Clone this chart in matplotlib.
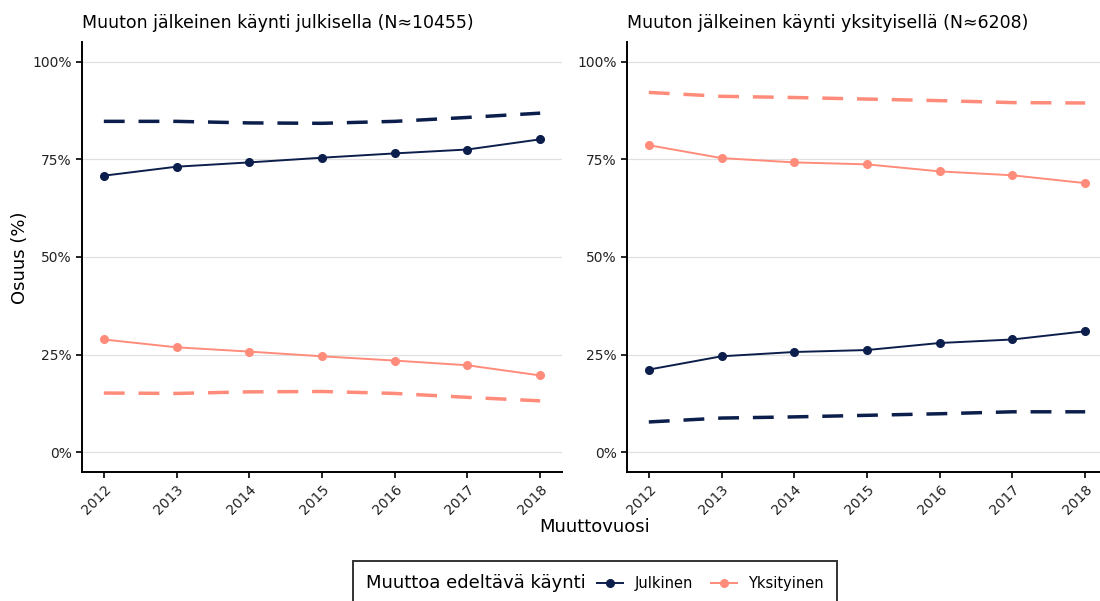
import matplotlib
matplotlib.use("Agg")
import matplotlib.pyplot as plt
from matplotlib.ticker import FuncFormatter
from matplotlib.offsetbox import HPacker
from matplotlib.lines import Line2D

years = [2012, 2013, 2014, 2015, 2016, 2017, 2018]

# Muuton jälkeinen käynti julkisella
julk_julk = [70.8, 73.1, 74.2, 75.4, 76.5, 77.5, 80.1]
julk_yks = [28.9, 26.9, 25.8, 24.6, 23.5, 22.3, 19.7]
julk_julk_ref = [84.7, 84.7, 84.3, 84.2, 84.7, 85.7, 86.8]
julk_yks_ref = [15.2, 15.1, 15.5, 15.6, 15.1, 14.1, 13.2]

# Muuton jälkeinen käynti yksityisellä
yks_yks = [78.6, 75.3, 74.2, 73.7, 71.9, 70.9, 68.9]
yks_julk = [21.2, 24.6, 25.7, 26.2, 28.0, 28.9, 31.0]
yks_yks_ref = [92.1, 91.1, 90.8, 90.4, 90.0, 89.5, 89.4]
yks_julk_ref = [7.8, 8.8, 9.1, 9.5, 9.9, 10.4, 10.4]

titles = ["Muuton jälkeinen käynti julkisella (N\u224810455)",
          "Muuton jälkeinen käynti yksityisellä (N\u22486208)"]
labels = ["Julkinen", "Yksityinen"]

navy = "#0c1e4b"
salmon = "#ff8c7a"

plt.rcParams["font.family"] = ["DejaVu Sans"]

fig = plt.figure(figsize=(11, 6.01), dpi=100)
ax1 = fig.add_axes([82 / 1100, 1 - 472 / 601, 480 / 1100, 430 / 601])
ax2 = fig.add_axes([627 / 1100, 1 - 472 / 601, 480 / 1100, 430 / 601])

panels = [
    (ax1, julk_julk, julk_yks, julk_julk_ref, julk_yks_ref),
    (ax2, yks_julk, yks_yks, yks_julk_ref, yks_yks_ref),
]

for i, (ax, sj, sy, rj, ry) in enumerate(panels):
    ax.plot(years, rj, color=navy, lw=2.5, ls=(0, (6, 4)))
    ax.plot(years, ry, color=salmon, lw=2.5, ls=(0, (6, 4)))
    ax.plot(years, sj, color=navy, lw=1.4, marker="o", ms=5.5)
    ax.plot(years, sy, color=salmon, lw=1.4, marker="o", ms=5.5)

    ax.set_xlim(2011.7, 2018.3)
    ax.set_ylim(-5, 105)
    ax.set_yticks([0, 25, 50, 75, 100])
    ax.yaxis.set_major_formatter(FuncFormatter(lambda v, p: f"{v:.0f}%"))
    ax.set_xticks(years)
    ax.set_xticklabels([str(y) for y in years], rotation=45, ha="right",
                       rotation_mode="anchor")
    ax.grid(axis="y", color="#e0e0e0", lw=0.9)
    ax.set_axisbelow(True)
    for s in ["top", "right"]:
        ax.spines[s].set_visible(False)
    for s in ["left", "bottom"]:
        ax.spines[s].set_linewidth(1.4)
        ax.spines[s].set_color("black")
    ax.tick_params(axis="both", length=4, width=1.2, color="black",
                   labelsize=10, labelcolor="#222222")
    ax.set_title(titles[i], loc="left", fontsize=12.5, pad=10)

fig.text(20 / 1100, 1 - 258 / 601, "Osuus (%)", rotation=90, ha="center",
         va="center", fontsize=13)
fig.text(595 / 1100, 1 - 527 / 601, "Muuttovuosi", ha="center", va="center",
         fontsize=13)

handles = [Line2D([], [], color=navy, marker="o", ms=5.5, lw=1.4),
           Line2D([], [], color=salmon, marker="o", ms=5.5, lw=1.4)]
leg = fig.legend(handles, labels, title="Muuttoa edeltävä käynti", ncol=2,
                 loc="upper center", bbox_to_anchor=(595 / 1100, 1 - 554 / 601),
                 fontsize=10.5, title_fontsize=13, frameon=True, fancybox=False,
                 edgecolor="black", handlelength=1.8, columnspacing=1.2,
                 borderpad=0.9)
leg.get_frame().set_linewidth(1.4)
# put the legend title on the same row as the entries
box = leg._legend_box
leg._legend_box = HPacker(pad=box.pad, sep=8, align="center",
                          children=box.get_children())
leg._legend_box.set_figure(fig)
leg._legend_box.set_offset(leg._findoffset)

fig.savefig("out.png", dpi=100)
